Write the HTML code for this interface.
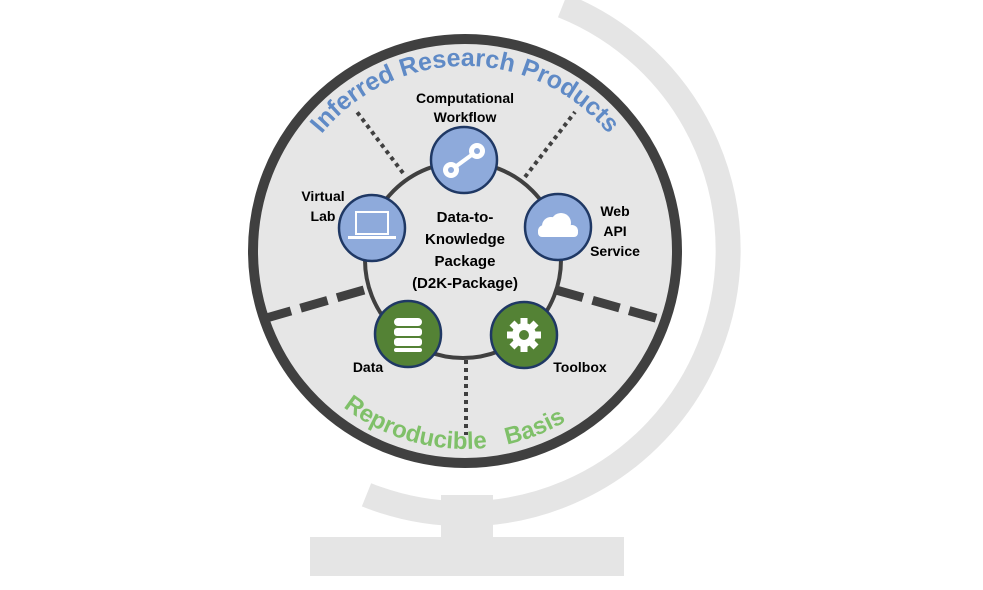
<!DOCTYPE html>
<html><head><meta charset="utf-8"><style>
html,body{margin:0;padding:0;background:#fff;}
svg{display:block;font-family:"Liberation Sans",sans-serif;}
</style></head><body>
<svg width="983" height="590" viewBox="0 0 983 590" xmlns="http://www.w3.org/2000/svg">
<path d="M 562.6 5.6 A 263 263 0 1 1 366.5 494.8" fill="none" stroke="#e5e5e5" stroke-width="25"/>
<rect x="441" y="495" width="52" height="45" fill="#e5e5e5"/>
<rect x="310" y="537" width="314" height="39" fill="#e5e5e5"/>
<circle cx="465" cy="251" r="212" fill="#e6e6e6" stroke="#404040" stroke-width="10"/>
<line x1="364" y1="290" x2="256" y2="321" stroke="#404040" stroke-width="9" stroke-dasharray="28,10"/>
<line x1="556" y1="290" x2="666" y2="321" stroke="#404040" stroke-width="9" stroke-dasharray="28,10" />
<line x1="403" y1="173" x2="357" y2="112" stroke="#404040" stroke-width="4" stroke-dasharray="4,4"/>
<line x1="525" y1="177" x2="575" y2="112" stroke="#404040" stroke-width="4" stroke-dasharray="4,4"/>
<line x1="466" y1="360" x2="466" y2="435" stroke="#404040" stroke-width="4" stroke-dasharray="4,4"/>
<circle cx="463" cy="260" r="98" fill="none" stroke="#404040" stroke-width="4"/>
<defs>
<path id="top" d="M 280 251 A 185 185 0 0 1 650 251"/>
<path id="bot" d="M 267 251 A 198 198 0 0 0 663 251"/>
</defs>
<text font-size="25" font-weight="bold" fill="#5f8ac6"><textPath href="#top" startOffset="50%" text-anchor="middle">Inferred Research Products</textPath></text>
<text font-size="24" font-weight="bold" fill="#7fc069" xml:space="preserve"><textPath href="#bot" startOffset="48%" text-anchor="middle">Reproducible   Basis</textPath></text>
<g font-size="15" font-weight="bold" fill="#000" text-anchor="middle">
<text x="465" y="222">Data-to-</text>
<text x="465" y="244">Knowledge</text>
<text x="465" y="266">Package</text>
<text x="465" y="288">(D2K-Package)</text>
<text x="465" y="103" font-size="14">Computational</text>
<text x="465" y="122" font-size="14">Workflow</text>
<text x="323" y="201" font-size="14">Virtual</text>
<text x="323" y="221" font-size="14">Lab</text>
<text x="615" y="216" font-size="14">Web</text>
<text x="615" y="236" font-size="14">API</text>
<text x="615" y="256" font-size="14">Service</text>
<text x="368" y="372" font-size="14">Data</text>
<text x="580" y="372" font-size="14">Toolbox</text>
</g>
<g stroke="#1f3864" stroke-width="2.5">
<circle cx="464" cy="160" r="33" fill="#8eaadb"/>
<circle cx="372" cy="228" r="33" fill="#8eaadb"/>
<circle cx="558" cy="227" r="33" fill="#8eaadb"/>
<circle cx="408" cy="334" r="33" fill="#548235"/>
<circle cx="524" cy="335" r="33" fill="#548235"/>
</g>
<g fill="#fff">
<line x1="451" y1="170" x2="477" y2="151" stroke="#fff" stroke-width="4"/>
<circle cx="451" cy="170" r="8"/><circle cx="477" cy="151" r="8"/>
<circle cx="451" cy="170" r="3" fill="#8eaadb"/><circle cx="477" cy="151" r="3" fill="#8eaadb"/>
</g>
<rect x="356" y="212" width="32" height="22" fill="#8eaadb" stroke="#fff" stroke-width="2"/>
<rect x="348" y="236" width="48" height="3" fill="#fff"/>
<g fill="#fff"><circle cx="551" cy="226" r="9"/><circle cx="561" cy="223" r="10"/><circle cx="544" cy="231" r="6"/><circle cx="572" cy="231" r="6"/><rect x="538" y="228" width="40" height="9" rx="4"/></g>
<g fill="#fff"><rect x="394" y="318" width="28" height="8" rx="4"/><rect x="394" y="328" width="28" height="8" rx="3"/><rect x="394" y="338" width="28" height="8" rx="3"/><rect x="394" y="348" width="28" height="4" rx="2"/></g>
<g transform="translate(524,335)" fill="#fff">
<circle r="12"/>
<g><rect x="-3.5" y="-17" width="7" height="34"/><rect x="-3.5" y="-17" width="7" height="34" transform="rotate(45)"/><rect x="-3.5" y="-17" width="7" height="34" transform="rotate(90)"/><rect x="-3.5" y="-17" width="7" height="34" transform="rotate(135)"/></g>
<circle r="5" fill="#548235"/>
</g>
</svg>
</body></html>
